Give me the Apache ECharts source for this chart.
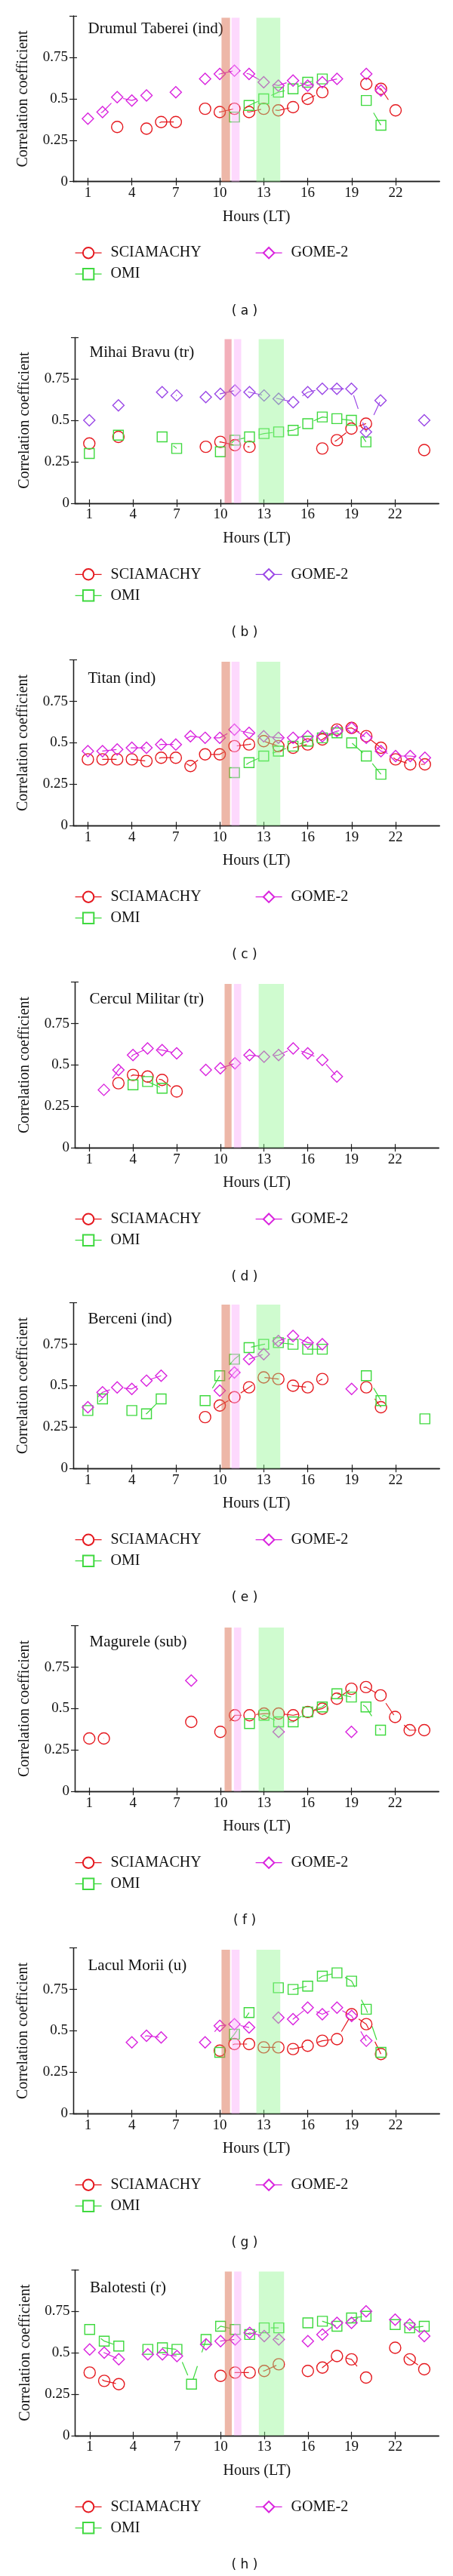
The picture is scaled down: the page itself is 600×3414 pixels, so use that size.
<!DOCTYPE html>
<html><head><meta charset="utf-8">
<script src="https://cdn.jsdelivr.net/npm/echarts@6/dist/echarts.min.js"></script>
<style>html,body{margin:0;padding:0;background:#fff}#c{width:600px;height:3414px}</style>
</head><body><div id="c"></div>
<script>
// ---------- data ----------
const hours = [1,2,3,4,5,6,7,8,9,10,11,12,13,14,15,16,17,18,19,20,21,22,23,24];
const xTicks = [1,4,7,10,13,16,19,22];
const seriesNames = ['SCIAMACHY','OMI','GOME-2'];
const stations = ['Drumul Taberei (ind)','Mihai Bravu (tr)','Titan (ind)','Cercul Militar (tr)','Berceni (ind)','Magurele (sub)','Lacul Morii (u)','Balotesti (r)'];
const panelLabels = ['( a )','( b )','( c )','( d )','( e )','( f )','( g )','( h )'];
const _ = null;
//            1   2   3   4   5   6   7   8   9   10  11  12  13  14  15  16  17  18  19  20  21  22  23  24
const sciaA = [_,  _,  .33,_,  .32,.36,.36,_,  .44,.42,.44,.42,.44,.43,.45,.50,.54,_,  _,  .59,.56,.43,_,  _];
const omiA  = [_,  _,  _,  _,  _,  _,  _,  _,  _,  _,  .39,.46,.50,.54,.56,.60,.62,_,  _,  .49,.34,_,  _,  _];
const gomeA = [.38,.42,.51,.49,.52,_,  .54,_,  .62,.65,.67,.65,.60,.58,.61,.58,.60,.62,_,  .65,.55,_,  _,  _];

const sciaB = [.36,_,  .40,_,  _,  _,  _,  _,  .34,.37,.35,.34,_,  _,  _,  _,  .33,.38,.45,.48,_,  _,  _,  .32];
const omiB  = [.30,_,  .41,_,  _,  .40,.33,_,  _,  .31,.38,.40,.42,.43,.44,.48,.52,.51,.50,.37,_,  _,  _,  _];
const gomeB = [.50,_,  .59,_,  _,  .67,.65,_,  .64,.66,.68,.67,.65,.63,.61,.67,.69,.69,.69,.43,.62,_,  _,  .50];

const sciaC = [.40,.40,.40,.40,.39,.41,.41,.36,.43,.43,.48,.49,.51,.48,.47,.49,.52,.58,.59,.54,.47,.40,.37,.37];
const omiC  = [_,  _,  _,  _,  _,  _,  _,  _,  _,  _,  .32,.38,.42,.45,.48,.51,.53,.56,.50,.42,.31,_,  _,  _];
const gomeC = [.45,.45,.46,.47,.47,.49,.49,.54,.53,.53,.58,.56,.54,.53,.53,.54,.54,.57,.59,.53,.45,.42,.42,.41];

const sciaD = [_,  _,  .39,.44,.43,.41,.34,_,  _,  _,  _,  _,  _,  _,  _,  _,  _,  _,  _,  _,  _,  _,  _,  _];
const omiD  = [_,  _,  _,  .38,.40,.36,_,  _,  _,  _,  _,  _,  _,  _,  _,  _,  _,  _,  _,  _,  _,  _,  _,  _];
const gomeD = [_,  .35,.47,.56,.60,.59,.57,_,  .47,.48,.51,.56,.55,.56,.60,.57,.53,.43,_,  _,  _,  _,  _,  _];

const sciaE = [_,  _,  _,  _,  _,  _,  _,  _,  .31,.38,.43,.49,.55,.54,.50,.49,.54,_,  _,  .49,.37,_,  _,  _];
const omiE  = [.35,.42,_,  .35,.33,.42,_,  _,  .41,.56,.66,.73,.75,.76,.75,.72,.72,_,  _,  .56,.41,_,  _,  .30];
const gomeE = [.37,.46,.49,.48,.53,.56,_,  _,  _,  .47,.58,.66,.69,.77,.80,.76,.75,_,  .48,_,  _,  _,  _,  _];

const sciaF = [.32,.32,_,  _,  _,  _,  _,  .42,_,  .36,.46,.46,.47,.47,.46,.48,.50,.56,.62,.63,.58,.45,.37,.37];
const omiF  = [_,  _,  _,  _,  _,  _,  _,  _,  _,  _,  _,  .41,.46,.42,.42,.48,.51,.59,.57,.51,.37,_,  _,  _];
const gomeF = [_,  _,  _,  _,  _,  _,  _,  .67,_,  _,  _,  _,  _,  .36,_,  _,  _,  _,  .36,_,  _,  _,  _,  _];

const sciaG = [_,  _,  _,  _,  _,  _,  _,  _,  _,  .38,.42,.42,.40,.40,.39,.41,.44,.45,.60,.54,.36,_,  _,  _];
const omiG  = [_,  _,  _,  _,  _,  _,  _,  _,  _,  .37,.48,.61,_,  .76,.75,.77,.83,.85,.80,.63,.37,_,  _,  _];
const gomeG = [_,  _,  _,  .43,.47,.46,_,  _,  .43,.53,.54,.52,_,  .58,.57,.64,.60,.64,.59,.44,_,  _,  _,  _];

const sciaH = [.38,.33,.31,_,  _,  _,  _,  _,  _,  .36,.38,.38,.39,.43,_,  .39,.41,.48,.46,.35,_,  .53,.46,.40];
const omiH  = [.64,.57,.54,_,  .52,.53,.52,.31,.58,.66,.64,.61,.65,.65,_,  .68,.69,.66,.71,.72,_,  .67,.65,.66];
const gomeH = [.52,.50,.46,_,  .49,.49,.48,_,  .55,.57,.58,.62,.60,.58,_,  .57,.61,.68,.68,.75,_,  .70,.67,.60];

// overpass bands (hours): [start, end, colourIndex]
const bands1 = [[10.12,10.70,0],[10.80,11.35,1],[12.50,14.13,2]];
const bands2 = [[10.29,10.77,0],[10.93,11.43,1],[12.63,14.36,2]];

// ---------- layout / style ----------
const panelData = [
  [sciaA,omiA,gomeA],[sciaB,omiB,gomeB],[sciaC,omiC,gomeC],[sciaD,omiD,gomeD],
  [sciaE,omiE,gomeE],[sciaF,omiF,gomeF],[sciaG,omiG,gomeG],[sciaH,omiH,gomeH]
];
const panelTop  = [21.2, 447.3, 874.7, 1301.7, 1726.7, 2154.7, 2581.7, 3008.3];
const panelLeft = [97, 99, 97, 99, 97, 99, 97, 99.5];
const panelRight = [582.2, 581.2, 582.2, 581.2, 582.2, 581.2, 582.2, 581.2];
const titleDy = [17.5, 20, 25, 22.6, 22, 21.3, 24, 24];
const plotH = 219.5;
const serif = "'Liberation Serif','DejaVu Serif',serif";
const RED = '#e5191f', GREEN = '#3fd93f', MAG = '#d923de', PURP = '#9a47e6';
const bandColors1 = ['rgba(220,112,82,0.50)','rgba(250,170,250,0.45)','rgba(140,245,140,0.42)'];
const bandColors2 = ['rgba(232,96,118,0.50)','rgba(250,170,250,0.45)','rgba(140,245,140,0.42)'];
const frame = {show:true, lineStyle:{color:'#1e1e1e', width:1.3}};

const grid=[], xAxis=[], yAxis=[], series=[], legend=[], graphic=[];
panelData.forEach((arrs, i) => {
  const T = panelTop[i], L = panelLeft[i];
  grid.push({left:L, top:T, width:panelRight[i]-L, height:plotH});
  xAxis.push({gridIndex:i, type:'value', min:0, max:25, position:'bottom',
    axisLine:frame, splitLine:{show:false},
    axisTick:{inside:true, length:5, customValues:xTicks, lineStyle:{color:'#1e1e1e', width:1.2}},
    axisLabel:{customValues:xTicks, margin:6, fontFamily:serif, fontSize:19, color:'#111'},
    name:'Hours (LT)', nameLocation:'middle', nameGap:37,
    nameTextStyle:{fontFamily:serif, fontSize:20, color:'#111'}});
  xAxis.push({gridIndex:i, type:'value', min:0, max:25, position:'top',
    axisLine:frame, splitLine:{show:false},
    axisTick:{inside:true, length:5, customValues:xTicks, lineStyle:{color:'#1e1e1e', width:1.2}},
    axisLabel:{show:false}});
  yAxis.push({gridIndex:i, type:'value', min:0, max:1, interval:0.25, position:'left',
    axisLine:frame, splitLine:{show:false},
    axisTick:{inside:true, length:5, lineStyle:{color:'#1e1e1e', width:1.2}},
    axisLabel:{margin:7, fontFamily:serif, fontSize:19, color:'#111', formatter:v => v >= 1 ? '' : String(v)},
    name:'Correlation coefficient', nameLocation:'middle', nameGap:56,
    nameTextStyle:{fontFamily:serif, fontSize:20, color:'#111'}});
  yAxis.push({gridIndex:i, type:'value', min:0, max:1, interval:0.25, position:'right',
    axisLine:frame, splitLine:{show:false},
    axisTick:{inside:true, length:5, lineStyle:{color:'#1e1e1e', width:1.2}},
    axisLabel:{show:false}});

  const gColor = i === 1 ? PURP : MAG;
  const colors = [RED, GREEN, gColor];
  const symbols = ['circle','rect','diamond'];
  const sizes = [15, 13, 15];
  arrs.forEach((arr, s) => {
    series.push({type:'line', name:seriesNames[s], xAxisIndex:i*2, yAxisIndex:i*2,
      data: hours.map((h,k) => [h, arr[k]]), connectNulls:false,
      symbol:symbols[s], symbolSize:sizes[s], showSymbol:true, z:3,
      itemStyle:{color:'rgba(0,0,0,0)', borderColor:colors[s], borderWidth:1.4},
      lineStyle:{color:colors[s], width:1.2, type:[19,19], dashOffset:19},
      emphasis:{disabled:true}, animation:false});
  });
  const bands = (i % 2 === 0) ? bands1 : bands2;
  const bcol = (i === 1) ? bandColors2 : bandColors1;
  series.push({type:'custom', xAxisIndex:i*2, yAxisIndex:i*2, z:10, silent:true, animation:false,
    data: bands, encode:{x:[0,1]},
    renderItem:(p, api) => {
      const a = api.coord([api.value(0), 0.99]);
      const b = api.coord([api.value(1), 0]);
      return {type:'rect', shape:{x:a[0], y:a[1], width:b[0]-a[0], height:b[1]-a[1]},
        style:{fill:bcol[api.value(2)]}};
    }});

  const legBase = {orient:'vertical', itemWidth:35, itemHeight:18, itemGap:8, padding:0,
    selectedMode:false, top:T+304,
    textStyle:{fontFamily:serif, fontSize:20, color:'#111', padding:[0,0,0,7]},
    itemStyle:{color:'#fff'}, lineStyle:{type:'solid', width:1.2}};
  legend.push(Object.assign({}, legBase, {left:99, data:['SCIAMACHY','OMI']}));
  legend.push(Object.assign({}, legBase, {left:338,
    data:[{name:'GOME-2', itemStyle:{color:'#fff', borderColor:gColor}, lineStyle:{color:gColor, type:'solid'}}]}));

  graphic.push({type:'text', x:L+19.5, y:T+titleDy[i], silent:true,
    style:{text:stations[i], font:"21px 'Liberation Serif'", fill:'#111',
      align:'left', verticalAlign:'middle', textAlign:'left', textVerticalAlign:'middle'}});
  graphic.push({type:'text', x:324, y:T+391, silent:true,
    style:{text:panelLabels[i], font:"17px 'DejaVu Sans'", fill:'#111',
      align:'center', verticalAlign:'middle', textAlign:'center', textVerticalAlign:'middle'}});
});

const chart = echarts.init(document.getElementById('c'), null, {renderer:'canvas'});
chart.setOption({animation:false, backgroundColor:'#fff', grid, xAxis, yAxis, series, legend, graphic});
</script></body></html>
